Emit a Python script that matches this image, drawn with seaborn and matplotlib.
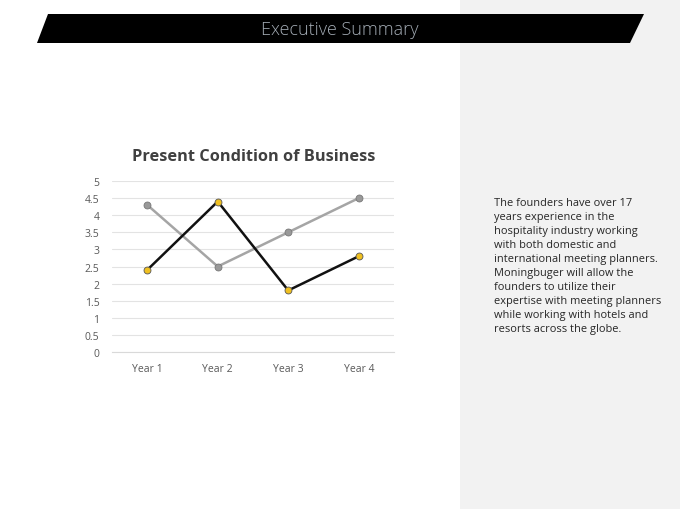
import matplotlib
matplotlib.use("Agg")
import matplotlib.pyplot as plt
from matplotlib.patches import Polygon, Rectangle
import seaborn as sns
import pandas as pd

years = ["Year 1", "Year 2", "Year 3", "Year 4"]
grey_series = [4.3, 2.5, 3.5, 4.5]
black_series = [2.4, 4.4, 1.8, 2.8]
yticks = [0, 0.5, 1, 1.5, 2, 2.5, 3, 3.5, 4, 4.5, 5]
ytick_labels = ["0", "0.5", "1", "1.5", "2", "2.5", "3", "3.5", "4", "4.5", "5"]

page_title = "Executive Summary"
chart_title = "Present Condition of Business"
body_text = ("The founders have over 17\n"
             "years experience in the\n"
             "hospitality industry working\n"
             "with both domestic and\n"
             "international meeting planners.\n"
             "Moningbuger will allow the\n"
             "founders to utilize their\n"
             "expertise with meeting planners\n"
             "while working with hotels and\n"
             "resorts across the globe.")

if __name__ == "__main__":
    sns.set_style("white")
    plt.rcParams['font.family'] = ['Open Sans', 'DejaVu Sans']

    fig = plt.figure(figsize=(6.8, 5.1), dpi=100)
    W, H = 680, 510

    # grey side panel
    fig.patches.append(Rectangle((460 / W, 0), 220 / W, 1, transform=fig.transFigure,
                                 facecolor='#f2f2f2', edgecolor='none', zorder=0))
    # black banner
    banner = [(48, 15), (644, 15), (630, 44), (37, 44)]
    fig.patches.append(Polygon([(x / W, 1 - y / H) for x, y in banner], closed=True,
                               transform=fig.transFigure, facecolor='black',
                               edgecolor='none', zorder=1))
    fig.text(340 / W, 1 - 30 / H, page_title, ha='center', va='center',
             color='#a3abb4', fontsize=13, fontweight='light')

    df = pd.DataFrame({
        "Year": years * 2,
        "Value": grey_series + black_series,
        "Series": ["Series 1"] * 4 + ["Series 2"] * 4,
    })

    ax = fig.add_axes([112 / W, 1 - 353 / H, 282 / W, 171 / H])
    sns.lineplot(data=df[df.Series == "Series 1"], x="Year", y="Value", ax=ax,
                 color='#a5a5a5', linewidth=1.8, marker='o', markersize=5,
                 markerfacecolor='#999999', markeredgecolor='#777777',
                 markeredgewidth=0.6, clip_on=False)
    sns.lineplot(data=df[df.Series == "Series 2"], x="Year", y="Value", ax=ax,
                 color='#111111', linewidth=1.8, marker='o', markersize=5,
                 markerfacecolor='#f0c020', markeredgecolor='#555555',
                 markeredgewidth=0.6, clip_on=False)

    ax.set_xlim(-0.5, 3.5)
    ax.set_ylim(0, 5)
    ax.set_yticks(yticks)
    ax.set_yticklabels(ytick_labels)
    ax.set_xlabel('')
    ax.set_ylabel('')
    ax.grid(axis='y', color='#e3e3e3', linewidth=0.8)
    ax.set_axisbelow(True)
    for s in ['top', 'right', 'left']:
        ax.spines[s].set_visible(False)
    ax.spines['bottom'].set_color('#d9d9d9')
    ax.spines['bottom'].set_linewidth(0.8)
    ax.tick_params(axis='both', length=0, labelsize=7.5, labelcolor='#595959')
    ax.tick_params(axis='y', pad=9)
    ax.tick_params(axis='x', pad=8)
    ax.set_facecolor('none')

    fig.text(254 / W, 1 - 157 / H, chart_title, ha='center', va='center',
             color='#404040', fontsize=11.8, fontweight='bold')

    fig.text(494 / W, 1 - 198 / H, body_text, ha='left', va='top',
             color='#262626', fontsize=7.9, linespacing=1.37)

    plt.savefig('out.png', dpi=100)
